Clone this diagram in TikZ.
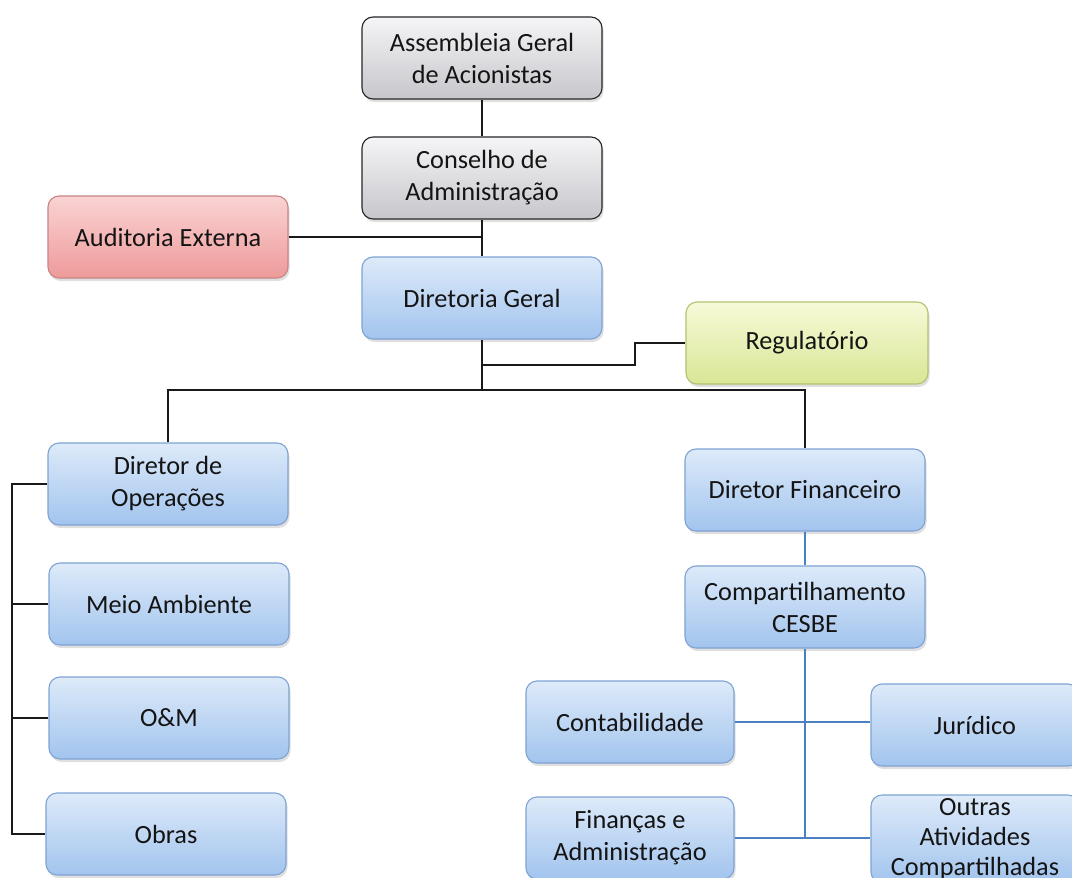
\documentclass[tikz,border=0pt]{standalone}
\usepackage{fontspec}
\setmainfont{Carlito}
\usetikzlibrary{shadows,calc}
\definecolor{grayT}{HTML}{F5F5F7}
\definecolor{grayB}{HTML}{C6C6CB}
\definecolor{blueT}{HTML}{DDEAF9}
\definecolor{blueB}{HTML}{A2C4EE}
\definecolor{blueD}{HTML}{7FA3D3}
\definecolor{redT}{HTML}{FAD3D3}
\definecolor{redB}{HTML}{EE9A9A}
\definecolor{redD}{HTML}{C98585}
\definecolor{yelT}{HTML}{F7FAD8}
\definecolor{yelB}{HTML}{D9E696}
\definecolor{yelD}{HTML}{B5C070}
\definecolor{lineB}{HTML}{4A7FC0}
\definecolor{txt}{HTML}{141414}
\tikzset{
  orgbox/.style={rounded corners=11pt, minimum width=240pt, minimum height=82pt,
    align=center, line width=1.1pt, text=txt,
    font=\fontsize{26.3}{32}\selectfont,
    drop shadow={shadow xshift=1.5pt, shadow yshift=-3pt, opacity=0.25}},
  graybox/.style={orgbox, draw=black!85, top color=grayT, bottom color=grayB},
  bluebox/.style={orgbox, draw=blueD, top color=blueT, bottom color=blueB},
  redbox/.style={orgbox, draw=redD, top color=redT, bottom color=redB},
  yelbox/.style={orgbox, draw=yelD, top color=yelT, bottom color=yelB},
  narrow/.style={minimum width=208pt},
  conn/.style={line width=1.3pt, draw=black!90},
  bconn/.style={line width=1.3pt, draw=lineB},
}
\begin{document}
\begin{tikzpicture}[x=1pt,y=-1pt]
\useasboundingbox (0,0) rectangle (1072,878);
\clip (0,0) rectangle (1072,878);
\fill[white] (0,0) rectangle (1072,878);

\coordinate (ag) at (482,58);
\coordinate (cs) at (482,178);
\coordinate (dgc) at (482,298);
\coordinate (ae) at (168,237);
\coordinate (rg) at (807,343);
\coordinate (opc) at (168,484);
\coordinate (dfc) at (805,490);
\coordinate (ccc) at (805,607);

\node[graybox] (assem) at (ag) {Assembleia Geral\\de Acionistas};
\node[graybox] (cons) at (cs) {Conselho de\\Administração};
\node[redbox] (aud) at (ae) {Auditoria Externa};
\node[bluebox] (dg) at (dgc) {Diretoria Geral};
\node[yelbox, minimum width=242pt] (reg) at (rg) {Regulatório};
\node[bluebox] (op) at (opc) {Diretor de\\Operações};
\node[bluebox] (meio) at (169,604) {Meio Ambiente};
\node[bluebox] (om) at (169,718) {O\&M};
\node[bluebox] (obras) at (166,834) {Obras};
\node[bluebox] (df) at (dfc) {Diretor Financeiro};
\node[bluebox] (cc) at (ccc) {Compartilhamento\\CESBE};
\node[bluebox, narrow] (cont) at (630,722) {Contabilidade};
\node[bluebox, narrow] (jur) at (975,725) {Jurídico};
\node[bluebox, narrow] (fa) at (630,838) {Finanças e\\Administração};
\node[bluebox, narrow, font=\fontsize{26.3}{30}\selectfont] (out) at (975,839) {Outras\\Atividades\\Compartilhadas};

% top connectors
\draw[conn] (assem.south) -- (cons.north);
\draw[conn] (cons.south) -- (dg.north);
\draw[conn] (aud.east) -- (aud.east -| cons.south);

% Regulatorio
\coordinate (r1) at (635,365);
\draw[conn] (dg.south) |- (r1) |- (reg.west);

% main bus
\coordinate (bus) at (482,390);
\draw[conn] (dg.south) -- (bus);
\draw[conn] (op.north) |- (bus) -| (df.north);

% left column bus
\coordinate (lb) at (12,484);
\draw[conn] (op.west) -- (op.west -| lb) |- (obras.west);
\draw[conn] (meio.west) -- (meio.west -| lb);
\draw[conn] (om.west) -- (om.west -| lb);

% CESBE connectors
\draw[bconn] (df.south) -- (cc.north);
\draw[bconn] (cc.south) -- (cc.south |- fa.east);
\draw[bconn] (cont.east) -- (jur.west |- cont.east);
\draw[bconn] (fa.east) -- (out.west |- fa.east);
\end{tikzpicture}
\end{document}
